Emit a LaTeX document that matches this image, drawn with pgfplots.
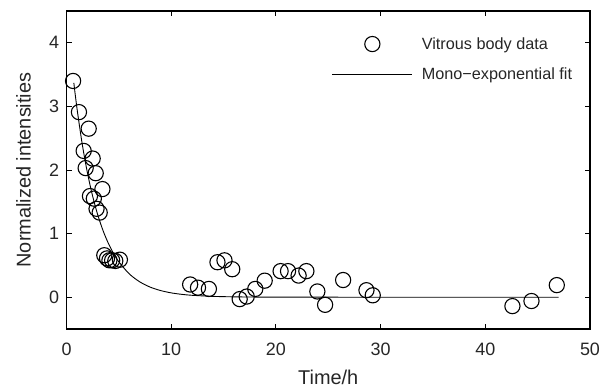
\documentclass[border=0pt]{standalone}
\usepackage{fontspec}
\setmainfont{Liberation Sans}
\usepackage{pgfplots}
\pgfplotsset{compat=1.18}
\usetikzlibrary{calc}
\begin{document}
\begin{tikzpicture}
\begin{axis}[
  scale only axis,
  width=523.5bp, height=318bp,
  xmin=0, xmax=50, ymin=-0.5, ymax=4.5,
  xtick={0,10,20,30,40,50},
  ytick={0,1,2,3,4},
  tick align=inside,
  major tick length=5.5bp,
  axis line style={line width=1.6bp},
  every tick/.style={line width=1bp, black},
  /pgf/number format/assume math mode=true,
  ticklabel style={font=\fontsize{18}{21}\selectfont, text=black!85},
  xticklabel style={yshift=-10bp},
  yticklabel style={xshift=-4bp},
  xlabel={Time/h},
  ylabel={Normalized intensities},
  xlabel style={font=\fontsize{20}{23}\selectfont, text=black!85, at={(axis description cs:0.5,-0.151)}, anchor=center},
  ylabel style={font=\fontsize{20}{23}\selectfont, text=black!85, at={(axis description cs:-0.0822,0.5)}, anchor=center},
  legend cell align=left,
  legend style={draw=none, fill=none, inner sep=0pt, row sep=11.5bp,
    font=\fontsize{16.3}{19}\selectfont,
    at={(rel axis cs:0.5066,0.927)}, anchor=north west,
    nodes={inner sep=3bp, text=black!85}},
]
\addplot[only marks, mark=o, mark size=7.6bp, mark options={line width=1.1bp}, black,
  legend image code/.code={\draw[mark repeat=2,mark phase=2] plot coordinates {(0bp,0bp)(40bp,0bp)(80bp,0bp)};}]
coordinates {
(0.63,3.40) (1.19,2.91) (2.12,2.65) (1.64,2.30) (2.50,2.18) (1.83,2.03)
(2.79,1.95) (3.43,1.70) (2.24,1.59) (2.61,1.55) (2.87,1.39) (3.17,1.33)
(3.61,0.66) (3.87,0.61) (4.10,0.58) (4.36,0.58) (4.66,0.57) (5.10,0.59)
(11.81,0.20) (12.56,0.15) (13.60,0.13) (14.42,0.55) (15.09,0.58) (15.83,0.44)
(16.54,-0.03) (17.21,0.01) (18.03,0.13) (18.93,0.26) (20.45,0.41) (21.16,0.41)
(22.17,0.34) (22.91,0.41) (23.96,0.09) (24.70,-0.12) (26.42,0.27) (28.65,0.11)
(29.25,0.03) (42.59,-0.14) (44.41,-0.06) (46.83,0.19)
};
\addlegendentry{\hspace{6bp}Vitrous body data}
\addplot[black, line width=0.9bp, smooth,
  legend image code/.code={\draw (0bp,0bp) -- (80bp,0bp);}]
coordinates {
(0.7,3.37) (1,2.97) (1.5,2.41) (2,1.955) (2.5,1.586) (3,1.286) (3.5,1.043)
(4,0.846) (4.5,0.686) (5,0.556) (6,0.366) (7,0.241) (8,0.158) (9,0.104)
(10,0.068) (11,0.045) (12,0.030) (14,0.013) (16,0.0055) (18,0.0024)
(20,0.001) (25,0.0001) (30,0) (47,0)
};
\addlegendentry{\hspace{6bp}Mono\textminus exponential fit}
\end{axis}
\pgfresetboundingbox
\path ($(current axis.south west)+(-66.5bp,-58bp)$) rectangle ($(current axis.north east)+(21bp,11bp)$);
\end{tikzpicture}
\end{document}
